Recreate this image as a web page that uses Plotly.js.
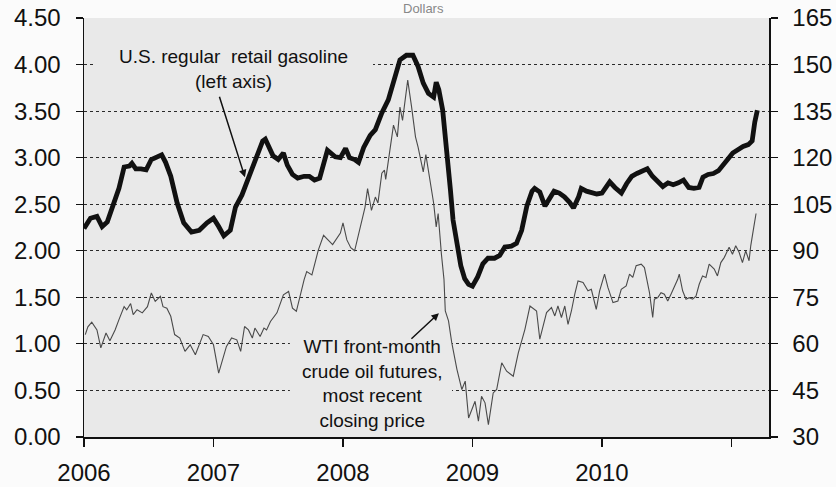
<!DOCTYPE html>
<html>
<head>
<meta charset="utf-8">
<script src="https://cdn.plot.ly/plotly-3.0.1.min.js"></script>
<style>html,body{margin:0;padding:0;background:#fbfbfb;}#chart{width:836px;height:487px;}</style>
</head>
<body>
<div id="chart"></div>
<script>
// Gasoline, U.S. regular retail ($/gal, left axis) – weekly, dates as decimal years
const gasDates = [2006.00,2006.05,2006.10,2006.14,2006.18,2006.23,2006.27,2006.31,2006.35,2006.37,2006.40,2006.44,2006.48,2006.52,2006.56,2006.60,2006.63,2006.67,2006.72,2006.77,2006.83,2006.89,2006.95,2007.00,2007.04,2007.08,2007.13,2007.17,2007.22,2007.27,2007.30,2007.34,2007.38,2007.40,2007.43,2007.46,2007.50,2007.54,2007.57,2007.61,2007.65,2007.67,2007.70,2007.74,2007.78,2007.82,2007.88,2007.94,2007.98,2008.02,2008.05,2008.09,2008.12,2008.16,2008.21,2008.25,2008.30,2008.35,2008.39,2008.44,2008.49,2008.54,2008.58,2008.62,2008.66,2008.70,2008.72,2008.74,2008.77,2008.80,2008.83,2008.85,2008.88,2008.91,2008.94,2008.97,2009.00,2009.04,2009.08,2009.12,2009.17,2009.21,2009.25,2009.30,2009.34,2009.38,2009.42,2009.46,2009.48,2009.52,2009.56,2009.59,2009.63,2009.67,2009.71,2009.75,2009.78,2009.82,2009.84,2009.88,2009.92,2009.96,2010.00,2010.03,2010.06,2010.10,2010.15,2010.19,2010.23,2010.27,2010.31,2010.35,2010.39,2010.43,2010.47,2010.51,2010.55,2010.59,2010.63,2010.67,2010.71,2010.75,2010.78,2010.82,2010.86,2010.90,2010.94,2010.97,2011.01,2011.05,2011.09,2011.13,2011.16,2011.18,2011.20];
const gasPrice = [2.24,2.35,2.37,2.26,2.31,2.51,2.67,2.90,2.91,2.94,2.88,2.88,2.87,2.98,3.00,3.03,2.95,2.80,2.51,2.30,2.20,2.22,2.30,2.35,2.26,2.16,2.22,2.47,2.60,2.78,2.88,3.02,3.18,3.20,3.12,3.02,2.98,3.05,2.92,2.82,2.78,2.79,2.80,2.80,2.76,2.78,3.08,3.01,3.00,3.10,3.00,2.98,2.95,3.11,3.24,3.30,3.48,3.62,3.83,4.05,4.10,4.10,3.98,3.80,3.69,3.65,3.81,3.73,3.51,3.12,2.65,2.33,2.04,1.84,1.70,1.64,1.62,1.72,1.86,1.92,1.92,1.95,2.04,2.05,2.08,2.22,2.48,2.64,2.67,2.63,2.48,2.55,2.64,2.62,2.58,2.52,2.46,2.58,2.67,2.64,2.63,2.61,2.62,2.68,2.74,2.68,2.62,2.72,2.80,2.83,2.85,2.88,2.80,2.74,2.69,2.73,2.71,2.73,2.76,2.68,2.67,2.68,2.79,2.82,2.83,2.86,2.92,2.98,3.05,3.09,3.12,3.14,3.18,3.38,3.51];

// WTI front-month crude oil futures, closing price ($/bbl, right axis)
const wtiDates = [2006.01,2006.03,2006.06,2006.10,2006.13,2006.15,2006.17,2006.20,2006.24,2006.27,2006.31,2006.33,2006.36,2006.38,2006.41,2006.45,2006.49,2006.52,2006.55,2006.59,2006.61,2006.64,2006.67,2006.70,2006.74,2006.78,2006.82,2006.86,2006.90,2006.92,2006.96,2007.00,2007.04,2007.10,2007.14,2007.18,2007.21,2007.24,2007.27,2007.30,2007.32,2007.36,2007.39,2007.41,2007.44,2007.49,2007.54,2007.58,2007.61,2007.64,2007.70,2007.72,2007.76,2007.81,2007.85,2007.92,2007.98,2008.00,2008.03,2008.06,2008.09,2008.13,2008.17,2008.19,2008.22,2008.25,2008.27,2008.30,2008.32,2008.33,2008.36,2008.39,2008.42,2008.44,2008.46,2008.49,2008.50,2008.53,2008.56,2008.58,2008.62,2008.64,2008.67,2008.70,2008.72,2008.735,2008.76,2008.78,2008.79,2008.815,2008.84,2008.88,2008.918,2008.944,2008.97,2008.995,2009.02,2009.046,2009.07,2009.097,2009.123,2009.16,2009.187,2009.226,2009.264,2009.315,2009.354,2009.405,2009.444,2009.495,2009.52,2009.572,2009.61,2009.636,2009.66,2009.687,2009.713,2009.738,2009.764,2009.79,2009.815,2009.854,2009.892,2009.918,2009.956,2009.982,2010.02,2010.046,2010.085,2010.123,2010.149,2010.187,2010.213,2010.238,2010.264,2010.303,2010.328,2010.341,2010.367,2010.392,2010.405,2010.431,2010.456,2010.482,2010.508,2010.533,2010.559,2010.585,2010.597,2010.623,2010.649,2010.674,2010.70,2010.726,2010.751,2010.777,2010.803,2010.828,2010.867,2010.892,2010.918,2010.944,2010.982,2011.008,2011.033,2011.059,2011.085,2011.11,2011.136,2011.149,2011.17,2011.19];
const wtiPrice = [63,65.5,67,64.5,58.7,61,63.5,61,64.5,67.8,72,71,73,69.4,71,70,72,76.4,73.7,75.3,72,71.5,68.9,63,61.9,57.6,59.7,56.5,61.3,63,62.4,59.7,50.6,59.2,61.9,61.3,57.6,65.6,64.5,61.9,65.1,62.4,65.1,64.5,67.2,70,75.8,76.9,71.5,70.5,80.7,83.3,82.2,90.3,95,92,95.7,99,93.5,91,90,96.7,104,110,103,107.3,105.4,115,116,113,122.5,130.5,126.7,136.3,132,141.8,145,136.3,126.7,123.4,115.4,121,112.8,105.4,97.7,102,89,80.8,70.6,67.4,60.4,51.8,45.3,48,36.1,38.8,41.5,35.1,43.1,41,34,44.2,45.3,53.9,51.2,49.6,57.1,64.7,72.2,70.6,61.5,70.1,71.7,69,72.2,68.5,72.2,66.3,70.6,76,80.3,79.8,77.1,77.6,71.1,77.1,82.5,78.2,73.3,73.8,77.6,78.7,82.5,81.4,85.2,85.7,84.6,81.9,76.5,68.5,74.4,74.9,76.5,76,73.8,76,78.2,80.8,82.5,77.1,74.4,74.9,74.4,75.4,79.2,81.9,81.4,85.7,84.1,81.9,86.2,87.8,91.1,88.9,91.6,89.5,86.2,90,86.8,91.6,97,102];

const yearTicks = [2006, 2007, 2008, 2009, 2010, 2011];
const yearLabels = ['2006', '2007', '2008', '2009', '2010', ''];
const leftTicks = [0, 0.5, 1, 1.5, 2, 2.5, 3, 3.5, 4, 4.5];
const rightTicks = [30, 45, 60, 75, 90, 105, 120, 135, 150, 165];

const FONT = 'Arial, "Liberation Sans", sans-serif';
const PLOTBG = '#e9e9e9';

const traces = [
  {x: wtiDates, y: wtiPrice, yaxis: 'y2', type: 'scatter', mode: 'lines',
   line: {color: '#4a4a4a', width: 1.1}, hoverinfo: 'skip', showlegend: false},
  {x: gasDates, y: gasPrice, yaxis: 'y', type: 'scatter', mode: 'lines',
   line: {color: '#111111', width: 4.8}, hoverinfo: 'skip', showlegend: false}
];

const layout = {
  width: 836, height: 487,
  margin: {l: 84, r: 67, t: 18, b: 50, pad: 0},
  paper_bgcolor: '#fbfbfb',
  plot_bgcolor: PLOTBG,
  font: {family: FONT, color: '#111', size: 24},
  showlegend: false,
  xaxis: {
    range: [2006, 2011.29], tickmode: 'array', tickvals: yearTicks, ticktext: yearLabels,
    ticks: 'outside', ticklen: 8, tickwidth: 1.2, tickcolor: '#111', ticklabelstandoff: 6,
    showline: true, linecolor: '#111', linewidth: 1.5,
    showgrid: false, zeroline: false, tickfont: {size: 24, family: FONT, color: '#111'}
  },
  yaxis: {
    range: [0, 4.5], tickmode: 'array', tickvals: leftTicks, tickformat: '.2f',
    ticks: 'outside', ticklen: 7, tickwidth: 1.2, tickcolor: '#111', ticklabelstandoff: 10,
    showline: true, linecolor: '#111', linewidth: 1.5,
    showgrid: true, gridcolor: '#2a2a2a', gridwidth: 1, griddash: 'dot',
    zeroline: false, tickfont: {size: 24, family: FONT, color: '#111'}
  },
  yaxis2: {
    range: [30, 165], tickmode: 'array', tickvals: rightTicks, overlaying: 'y', side: 'right',
    ticks: 'outside', ticklen: 7, tickwidth: 1.2, tickcolor: '#111', ticklabelstandoff: 10,
    showline: true, linecolor: '#111', linewidth: 1.5,
    showgrid: false, zeroline: false, tickfont: {size: 24, family: FONT, color: '#111'}
  },
  shapes: [
    {type: 'rect', xref: 'x', yref: 'y', x0: 2006.085, x1: 2008.232, y0: 3.62, y1: 4.26,
     fillcolor: PLOTBG, line: {width: 0}, layer: 'between'},
    {type: 'rect', xref: 'x', yref: 'y', x0: 2007.59, x1: 2008.842, y0: 0.075, y1: 1.15,
     fillcolor: PLOTBG, line: {width: 0}, layer: 'between'}
  ],
  annotations: [
    {text: 'Dollars', xref: 'paper', yref: 'paper', x: 0.496, y: 1.043, yanchor: 'top',
     borderpad: 0, showarrow: false, font: {size: 13, family: FONT, color: '#888'}},
    {text: 'U.S. regular  retail gasoline<br>(left axis)', xref: 'x', yref: 'y',
     x: 2007.158, y: 3.95, showarrow: false, align: 'center',
     font: {size: 19, family: FONT, color: '#111'}},
    {text: '', xref: 'x', yref: 'y', x: 2007.243, y: 2.79, ax: -26, ay: -82,
     showarrow: true, arrowhead: 2, arrowsize: 1, arrowwidth: 1.5, arrowcolor: '#111'},
    {text: 'WTI front-month<br>crude oil futures,<br>most recent<br>closing price', xref: 'x', yref: 'y',
     x: 2008.224, y: 0.58, showarrow: false, align: 'center',
     font: {size: 19, family: FONT, color: '#111'}},
    {text: '', xref: 'x', yref: 'y', x: 2008.741, y: 1.33, ax: -29, ay: 27,
     showarrow: true, arrowhead: 2, arrowsize: 1, arrowwidth: 1.5, arrowcolor: '#111'}
  ]
};

Plotly.newPlot('chart', traces, layout, {displayModeBar: false, staticPlot: true});
</script>
</body>
</html>
